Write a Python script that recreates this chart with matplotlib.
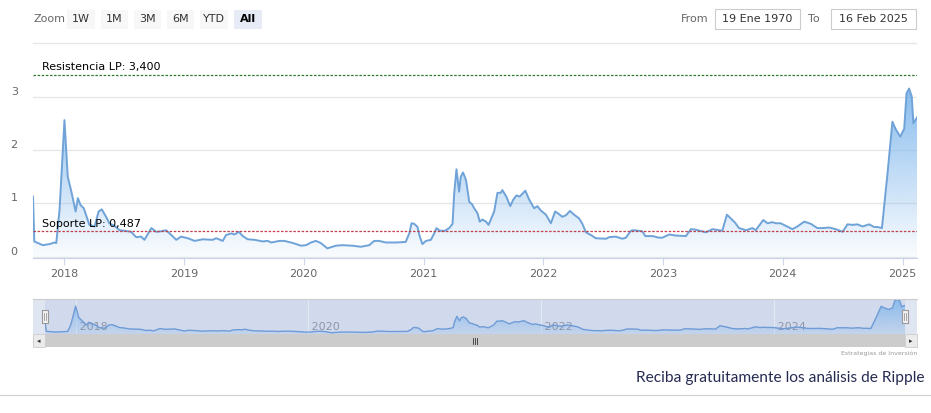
import numpy as np
import pandas as pd
import matplotlib
matplotlib.use("Agg")
import matplotlib.pyplot as plt
import matplotlib.dates as mdates
from matplotlib.patches import Rectangle
from matplotlib.colors import to_rgb

# XRP price (USD)
dates = [
    "2017-09-27", "2017-10-01", "2017-10-12", "2017-10-27", "2017-11-16", "2017-12-02",
    "2017-12-07", "2017-12-17", "2018-01-01", "2018-01-11", "2018-01-21", "2018-02-04",
    "2018-02-11", "2018-02-19", "2018-03-01", "2018-03-08", "2018-03-18", "2018-04-03",
    "2018-04-15", "2018-04-25", "2018-05-08", "2018-05-18", "2018-06-03", "2018-06-18",
    "2018-07-03", "2018-07-23", "2018-08-08", "2018-08-23", "2018-09-02", "2018-09-23",
    "2018-10-08", "2018-10-23", "2018-11-07", "2018-11-23", "2018-12-08", "2018-12-23",
    "2019-01-12", "2019-02-02", "2019-02-27", "2019-03-29", "2019-04-09", "2019-04-29",
    "2019-05-09", "2019-05-25", "2019-06-04", "2019-06-17", "2019-06-29", "2019-07-14",
    "2019-08-04", "2019-08-29", "2019-09-13", "2019-09-24", "2019-10-19", "2019-11-03",
    "2019-11-29", "2019-12-24", "2020-01-08", "2020-01-23", "2020-02-07", "2020-02-22",
    "2020-03-13", "2020-04-08", "2020-04-28", "2020-05-29", "2020-06-23", "2020-07-19",
    "2020-08-03", "2020-08-18", "2020-09-07", "2020-10-08", "2020-11-07", "2020-11-18",
    "2020-11-25", "2020-12-03", "2020-12-13", "2020-12-20", "2020-12-28", "2021-01-08",
    "2021-01-23", "2021-02-02", "2021-02-09", "2021-02-19", "2021-03-07", "2021-03-20",
    "2021-03-30", "2021-04-04", "2021-04-11", "2021-04-19", "2021-04-24", "2021-05-01",
    "2021-05-10", "2021-05-20", "2021-05-28", "2021-06-04", "2021-06-14", "2021-06-21",
    "2021-06-29", "2021-07-10", "2021-07-18", "2021-07-28", "2021-08-04", "2021-08-14",
    "2021-08-24", "2021-08-29", "2021-09-10", "2021-09-22", "2021-10-01", "2021-10-11",
    "2021-10-21", "2021-11-07", "2021-11-19", "2021-12-04", "2021-12-14", "2021-12-24",
    "2022-01-09", "2022-01-24", "2022-02-06", "2022-02-16", "2022-02-28", "2022-03-11",
    "2022-03-23", "2022-04-05", "2022-04-20", "2022-04-30", "2022-05-11", "2022-05-26",
    "2022-06-10", "2022-07-11", "2022-07-21", "2022-08-10", "2022-08-30", "2022-09-10",
    "2022-09-25", "2022-10-05", "2022-10-30", "2022-11-08", "2022-11-30", "2022-12-20",
    "2022-12-30", "2023-01-20", "2023-02-09", "2023-03-12", "2023-03-27", "2023-04-11",
    "2023-05-12", "2023-06-01", "2023-07-01", "2023-07-15", "2023-07-27", "2023-08-09",
    "2023-08-21", "2023-09-11", "2023-10-01", "2023-10-11", "2023-11-03", "2023-11-16",
    "2023-12-01", "2023-12-11", "2023-12-26", "2024-01-11", "2024-01-31", "2024-02-15",
    "2024-03-07", "2024-03-27", "2024-04-16", "2024-05-02", "2024-05-22", "2024-06-11",
    "2024-07-02", "2024-07-17", "2024-08-01", "2024-08-16", "2024-09-01", "2024-09-21",
    "2024-10-06", "2024-10-16", "2024-10-30", "2024-11-16", "2024-12-01", "2024-12-11",
    "2024-12-25", "2025-01-06", "2025-01-13", "2025-01-21", "2025-01-29", "2025-02-03",
    "2025-02-14",
]
prices = [
    1.13, 0.29, 0.26, 0.22, 0.24, 0.27,
    0.26, 0.88, 2.56, 1.50, 1.25, 0.85,
    1.10, 0.97, 0.91, 0.78, 0.60, 0.57,
    0.85, 0.89, 0.75, 0.63, 0.58, 0.50,
    0.49, 0.47, 0.37, 0.38, 0.32, 0.54,
    0.47, 0.48, 0.50, 0.41, 0.32, 0.38,
    0.35, 0.30, 0.33, 0.32, 0.35, 0.30,
    0.41, 0.44, 0.42, 0.47, 0.39, 0.33,
    0.32, 0.29, 0.30, 0.27, 0.30, 0.30,
    0.26, 0.21, 0.22, 0.27, 0.30, 0.26,
    0.16, 0.21, 0.22, 0.21, 0.19, 0.22,
    0.30, 0.30, 0.27, 0.27, 0.28, 0.44,
    0.63, 0.62, 0.56, 0.38, 0.24, 0.30,
    0.32, 0.44, 0.54, 0.49, 0.49, 0.54,
    0.62, 1.19, 1.64, 1.22, 1.50, 1.58,
    1.44, 1.03, 0.99, 0.91, 0.82, 0.66,
    0.70, 0.66, 0.60, 0.75, 0.85, 1.20,
    1.20, 1.25, 1.13, 0.95, 1.07, 1.15,
    1.13, 1.24, 1.07, 0.91, 0.95, 0.87,
    0.79, 0.63, 0.85, 0.81, 0.75, 0.78,
    0.86, 0.79, 0.72, 0.62, 0.46, 0.41,
    0.35, 0.34, 0.37, 0.38, 0.34, 0.36,
    0.49, 0.50, 0.48, 0.39, 0.39, 0.36,
    0.36, 0.42, 0.40, 0.39, 0.52, 0.51,
    0.46, 0.52, 0.49, 0.79, 0.72, 0.64,
    0.54, 0.50, 0.54, 0.50, 0.69, 0.63,
    0.65, 0.63, 0.63, 0.58, 0.52, 0.57,
    0.66, 0.62, 0.54, 0.54, 0.55, 0.52,
    0.47, 0.61, 0.60, 0.61, 0.57, 0.61,
    0.56, 0.56, 0.54, 1.56, 2.53, 2.39,
    2.25, 2.40, 3.06, 3.15, 3.00, 2.50,
    2.61,
]

year_ticks = [2018, 2019, 2020, 2021, 2022, 2023, 2024, 2025]
nav_years = [2018, 2020, 2022, 2024]
y_ticks = [0, 1, 2, 3, 4]
y_labels = ["0", "1", "2", "3", ""]
resistencia = 3.4
soporte = 0.487
resistencia_label = "Resistencia LP: 3,400"
soporte_label = "Soporte LP: 0,487"
zoom_buttons = ["1W", "1M", "3M", "6M", "YTD", "All"]
from_date = "19 Ene 1970"
to_date = "16 Feb 2025"

W, H = 931, 413
fig = plt.figure(figsize=(W / 100, H / 100), dpi=100)
fig.patch.set_facecolor("white")


def box(l, t, r, b):
    return [l / W, 1 - b / H, (r - l) / W, (b - t) / H]


def fx(px):
    return px / W


def fy(py):
    return 1 - py / H


x = mdates.date2num(pd.to_datetime(dates))
y = np.array(prices)
base = "#7cb5ec"


def gradient_area(ax, top_val, a_top, a_bot):
    poly = ax.fill_between(x, y, 0, facecolor="none", edgecolor="none")
    path = poly.get_paths()[0]
    rgba = np.zeros((256, 1, 4))
    rgba[..., :3] = to_rgb(base)
    rgba[:, 0, 3] = np.linspace(a_top, a_bot, 256)
    im = ax.imshow(rgba, extent=[x[0], x[-1], 0, top_val], aspect="auto",
                   origin="upper", zorder=1, interpolation="bilinear")
    im.set_clip_path(path, transform=ax.transData)


# main chart
ax = fig.add_axes(box(33, 41, 917, 258))
gradient_area(ax, 3.3, 0.95, 0.04)
ax.plot(x, y, color="#6fa3d8", lw=1.4, zorder=3, solid_joinstyle="round")
ax.set_xlim(x[0], x[-1])
ax.set_ylim(-0.02, 4.04)

ax.set_yticks(y_ticks)
ax.set_yticklabels(y_labels)
for lbl in ax.get_yticklabels():
    lbl.set_va("bottom")
ax.tick_params(axis="y", length=0, pad=11, labelsize=8, labelcolor="#666666")
ax.grid(axis="y", color="#e6e6e6", lw=0.9)

ax.set_xticks(mdates.date2num(pd.to_datetime([f"{yr}-01-01" for yr in year_ticks])))
ax.set_xticklabels([str(yr) for yr in year_ticks])
ax.tick_params(axis="x", length=5, width=0.8, color="#ccd6eb", pad=3,
               labelsize=8, labelcolor="#666666")
for s in ["top", "left", "right"]:
    ax.spines[s].set_visible(False)
ax.spines["bottom"].set_color("#ccd6eb")
ax.spines["bottom"].set_linewidth(0.9)
ax.set_axisbelow(True)

ax.axhline(resistencia, color="#2f7a2f", lw=0.9, ls=(0, (2, 1.3)), zorder=4)
ax.axhline(soporte, color="#c0404c", lw=0.9, ls=(0, (2, 1.3)), zorder=4)
fig.text(fx(42), fy(67), resistencia_label, fontsize=8, color="black", va="center")
fig.text(fx(42), fy(224), soporte_label, fontsize=8, color="black", va="center")

# range selector
fig.text(fx(33), fy(19), "Zoom", fontsize=8, color="#666666", va="center")
btn_left = [67, 101, 134, 167, 200, 234]
btn_right = [95, 128, 161, 194, 228, 262]
for lab, l, r in zip(zoom_buttons, btn_left, btn_right):
    sel = lab == "All"
    fig.patches.append(Rectangle((fx(l), fy(29)), (r - l) / W, 19 / H,
                                 transform=fig.transFigure,
                                 facecolor="#e6ebf5" if sel else "#f7f7f7",
                                 edgecolor="none"))
    fig.text(fx((l + r) / 2), fy(19.5), lab, fontsize=8, ha="center", va="center",
             color="black" if sel else "#333333",
             fontweight="bold" if sel else "normal")

fig.text(fx(681), fy(19), "From", fontsize=8, color="#666666", va="center")
fig.text(fx(808), fy(19), "To", fontsize=8, color="#666666", va="center")
for lab, l, r in [(from_date, 715, 800), (to_date, 831, 916)]:
    fig.patches.append(Rectangle((fx(l), fy(29)), (r - l) / W, 20 / H,
                                 transform=fig.transFigure, facecolor="white",
                                 edgecolor="#cccccc", lw=0.8))
    fig.text(fx((l + r) / 2), fy(19), lab, fontsize=8, ha="center", va="center",
             color="#333333")

# navigator
fig.patches.append(Rectangle((fx(33), fy(334)), 884 / W, 35 / H,
                             transform=fig.transFigure, facecolor="#dfe5f1",
                             edgecolor="none", zorder=-1))
nav = fig.add_axes(box(45, 299, 905, 334))
nav.set_facecolor("#d1daed")
for yr in nav_years:
    xd = mdates.date2num(pd.Timestamp(f"{yr}-01-01"))
    nav.axvline(xd, color="#e3e8f3", lw=0.8, zorder=0.5)
    nav.text(xd, 0.18, f" {yr}", fontsize=8, color="#8f96a6", va="bottom",
             ha="left", zorder=2)
gradient_area(nav, 3.3, 0.85, 0.15)
nav.plot(x, y, color="#6f9bd6", lw=1.0, zorder=3)
nav.set_xlim(x[0], x[-1])
nav.set_ylim(0.045, 3.19)
nav.set_xticks([])
nav.set_yticks([])
for s in nav.spines.values():
    s.set_visible(False)
fig.add_artist(plt.Line2D([fx(33), fx(917)], [fy(299), fy(299)], color="#cccccc", lw=0.8))

# handles
for cx in [44.5, 904.5]:
    fig.patches.append(Rectangle((fx(cx - 3), fy(323)), 6 / W, 13 / H,
                                 transform=fig.transFigure, facecolor="#f2f2f2",
                                 edgecolor="#999999", lw=0.8, zorder=5))
    for dx in (-1, 1):
        fig.add_artist(plt.Line2D([fx(cx + dx), fx(cx + dx)], [fy(320), fy(313)],
                                  color="#999999", lw=0.6, zorder=6))

# scrollbar
fig.patches.append(Rectangle((fx(33), fy(347)), 884 / W, 13 / H,
                             transform=fig.transFigure, facecolor="#f2f2f2",
                             edgecolor="none"))
fig.patches.append(Rectangle((fx(45), fy(347)), 860 / W, 13 / H,
                             transform=fig.transFigure, facecolor="#cccccc",
                             edgecolor="none"))
for l, r in [(33, 45), (905, 917)]:
    fig.patches.append(Rectangle((fx(l), fy(347)), (r - l) / W, 13 / H,
                                 transform=fig.transFigure, facecolor="#ebebeb",
                                 edgecolor="#cccccc", lw=0.6))
fig.text(fx(39), fy(341), "\u25c2", fontsize=5, ha="center", va="center", color="#333333")
fig.text(fx(911), fy(341), "\u25b8", fontsize=5, ha="center", va="center", color="#333333")
for dx in (-2, 0, 2):
    fig.add_artist(plt.Line2D([fx(475 + dx), fx(475 + dx)], [fy(344), fy(338)],
                              color="#333333", lw=0.6))

# footer
fig.text(fx(917), fy(353), "Estrategias de Inversión", fontsize=4.5, color="#999999",
         ha="right", va="center")
fig.text(fx(925), fy(378), "Reciba gratuitamente los análisis de Ripple", fontsize=11.2,
         color="#262b52", ha="right", va="center", family="Lato")
fig.add_artist(plt.Line2D([0, 1], [fy(395), fy(395)], color="#d0d0d0", lw=0.8))

fig.savefig("out.png", dpi=100, facecolor="white")
